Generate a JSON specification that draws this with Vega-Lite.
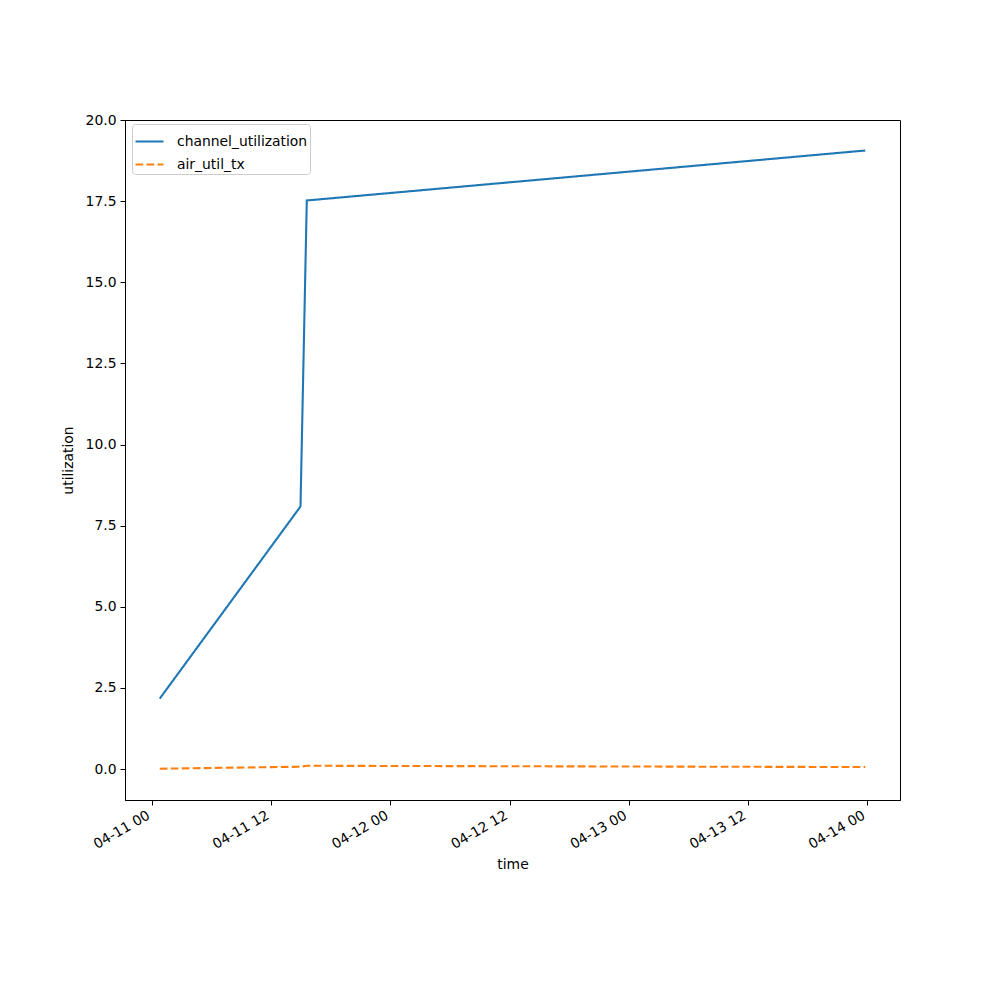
{
  "$schema": "https://vega.github.io/schema/vega-lite/v6.json",
  "width": 775,
  "height": 680,
  "autosize": {"type": "none"},
  "padding": {"left": 125, "top": 120, "right": 100, "bottom": 200},
  "background": "white",
  "config": {
    "view": {"stroke": "black", "strokeWidth": 1},
    "font": "DejaVu Sans",
    "axis": {
      "domainColor": "black",
      "tickColor": "black",
      "labelColor": "black",
      "titleColor": "black",
      "labelFont": "DejaVu Sans",
      "titleFont": "DejaVu Sans",
      "labelFontSize": 13.9,
      "titleFontSize": 13.9,
      "titleFontWeight": "normal",
      "tickSize": 5,
      "labelPadding": 4,
      "grid": false
    }
  },
  "data": {
    "values": [
      {"time": "2024-04-11T00:47:00Z", "series": "channel_utilization", "value": 2.17},
      {"time": "2024-04-11T14:57:00Z", "series": "channel_utilization", "value": 8.09},
      {"time": "2024-04-11T15:35:00Z", "series": "channel_utilization", "value": 17.52},
      {"time": "2024-04-13T23:48:00Z", "series": "channel_utilization", "value": 19.06},
      {"time": "2024-04-11T00:47:00Z", "series": "air_util_tx", "value": 0.01},
      {"time": "2024-04-11T14:57:00Z", "series": "air_util_tx", "value": 0.07},
      {"time": "2024-04-11T15:35:00Z", "series": "air_util_tx", "value": 0.1},
      {"time": "2024-04-13T23:48:00Z", "series": "air_util_tx", "value": 0.06}
    ]
  },
  "mark": {"type": "line", "strokeWidth": 2.1, "clip": true},
  "encoding": {
    "x": {
      "field": "time",
      "type": "temporal",
      "title": "time",
      "scale": {
        "type": "utc",
        "domain": [
          {"year": 2024, "month": 4, "date": 10, "hours": 21, "minutes": 17, "utc": true},
          {"year": 2024, "month": 4, "date": 14, "hours": 3, "minutes": 18, "utc": true}
        ]
      },
      "axis": {
        "labelExpr": "utcFormat(datum.value, '%m-%d %H')",
        "values": [
          {"year": 2024, "month": 4, "date": 11, "hours": 0, "utc": true},
          {"year": 2024, "month": 4, "date": 11, "hours": 12, "utc": true},
          {"year": 2024, "month": 4, "date": 12, "hours": 0, "utc": true},
          {"year": 2024, "month": 4, "date": 12, "hours": 12, "utc": true},
          {"year": 2024, "month": 4, "date": 13, "hours": 0, "utc": true},
          {"year": 2024, "month": 4, "date": 13, "hours": 12, "utc": true},
          {"year": 2024, "month": 4, "date": 14, "hours": 0, "utc": true}
        ],
        "labelAngle": -30,
        "labelAlign": "right",
        "labelBaseline": "top",
        "labelPadding": 3,
        "labelOffset": -7,
        "titlePadding": 6
      }
    },
    "y": {
      "field": "value",
      "type": "quantitative",
      "title": "utilization",
      "scale": {"domain": [-0.955, 20], "nice": false, "zero": false},
      "axis": {
        "values": [0, 2.5, 5, 7.5, 10, 12.5, 15, 17.5, 20],
        "format": ".1f",
        "titlePadding": 10
      }
    },
    "color": {
      "field": "series",
      "type": "nominal",
      "scale": {"domain": ["channel_utilization", "air_util_tx"], "range": ["#1f77b4", "#ff7f0e"]},
      "legend": {
        "title": null,
        "orient": "none",
        "legendX": 7,
        "legendY": 4,
        "symbolType": "stroke",
        "symbolSize": 784,
        "symbolStrokeWidth": 2.1,
        "labelFontSize": 13.9,
        "labelFont": "DejaVu Sans",
        "labelColor": "black",
        "strokeColor": "#cccccc",
        "fillColor": "white",
        "cornerRadius": 3,
        "padding": 2,
        "rowPadding": -10,
        "labelOffset": 12
      }
    },
    "strokeDash": {
      "field": "series",
      "type": "nominal",
      "scale": {"domain": ["channel_utilization", "air_util_tx"], "range": [[1, 0], [7.7, 3.3]]},
      "legend": null
    }
  }
}
